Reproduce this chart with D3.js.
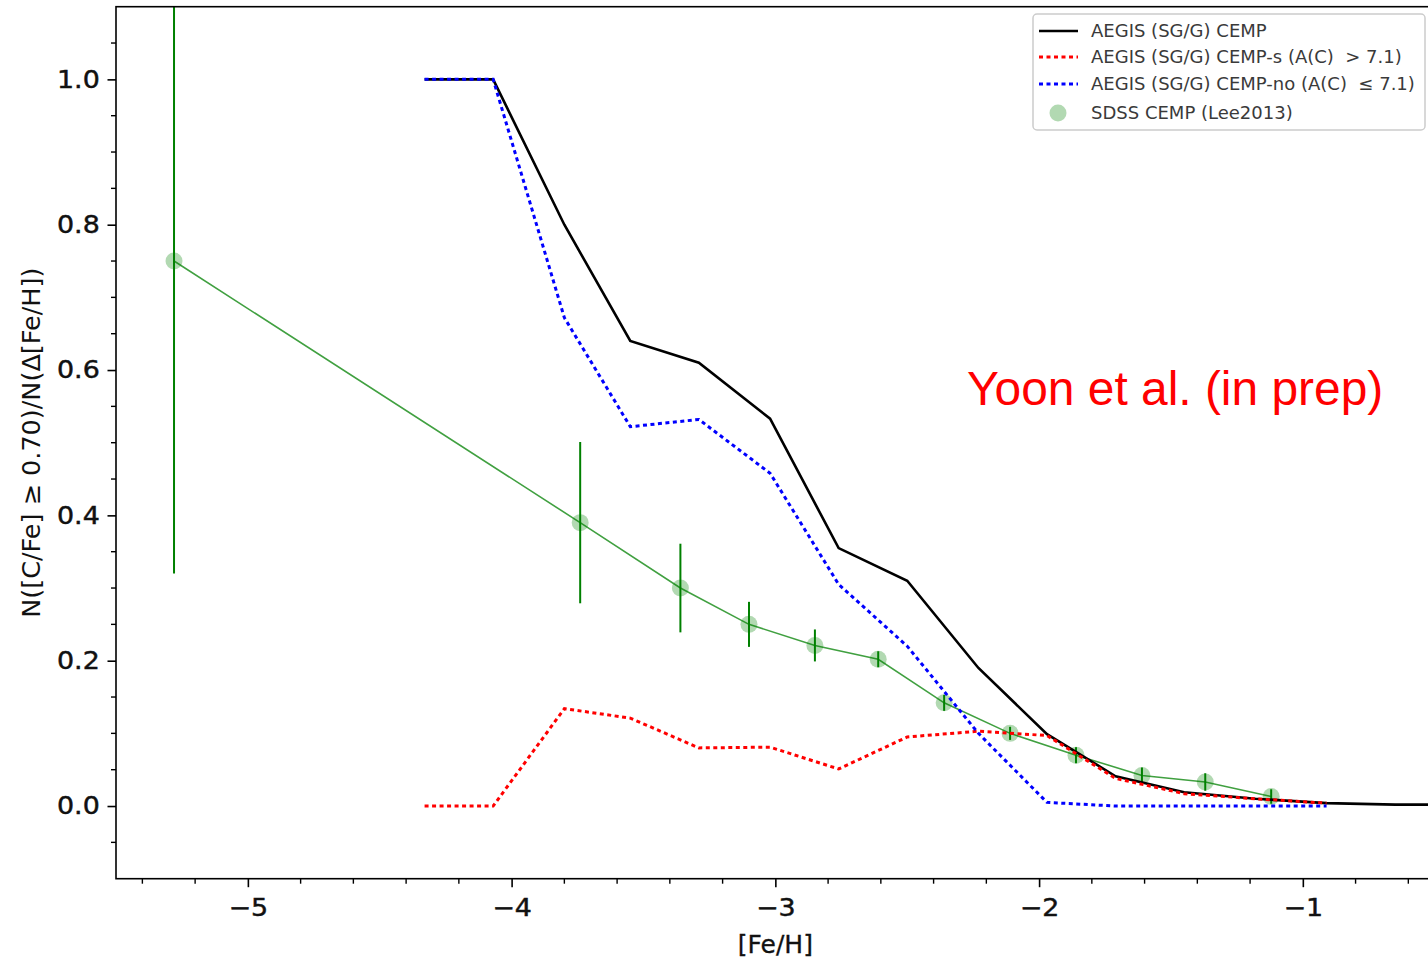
<!DOCTYPE html>
<html><head><meta charset="utf-8">
<script src="https://cdn.jsdelivr.net/npm/d3@7"></script>
<style>body{margin:0;background:#fff}svg{display:block}</style>
</head><body>
<script>
// ---- data ----
const fehBins = [-4.33, -4.07, -3.80, -3.55, -3.29, -3.02, -2.76, -2.50, -2.23, -1.97, -1.71, -1.45, -1.18, -0.91, -0.65, -0.39];
const cempAll = [1.0, 1.0, 0.80, 0.64, 0.61, 0.533, 0.355, 0.31, 0.19, 0.099, 0.041, 0.019, 0.01, 0.004, 0.002, 0.002];
const cempS   = [0.0, 0.0, 0.134, 0.121, 0.08, 0.081, 0.051, 0.095, 0.103, 0.097, 0.038, 0.017, 0.01, 0.004];
const cempNo  = [1.0, 1.0, 0.672, 0.522, 0.532, 0.458, 0.305, 0.22, 0.10, 0.005, 0.0, 0.0, 0.0, 0.0];
const sdssX   = [-5.28, -3.74, -3.36, -3.10, -2.85, -2.61, -2.36, -2.11, -1.86, -1.61, -1.37, -1.12];
const sdssY   = [0.75, 0.39, 0.30, 0.25, 0.221, 0.202, 0.142, 0.10, 0.07, 0.042, 0.033, 0.013];
const sdssErr = [0.43, 0.111, 0.061, 0.031, 0.022, 0.011, 0.011, 0.009, 0.011, 0.011, 0.012, 0.010];
const xTicks = [-5, -4, -3, -2, -1];
const yTicks = [0.0, 0.2, 0.4, 0.6, 0.8, 1.0];
const legendLabels = ["AEGIS (SG/G) CEMP", "AEGIS (SG/G) CEMP-s (A(C)  > 7.1)", "AEGIS (SG/G) CEMP-no (A(C)  \u2264 7.1)", "SDSS CEMP (Lee2013)"];

const W = 1428, H = 961;
const L = 116, R = 1434.7, T = 6.7, B = 878.7;
const svg = d3.select("body").append("svg").attr("width", W).attr("height", H);
const x = d3.scaleLinear().domain([-5.5, -0.5]).range([L, R]);
const y = d3.scaleLinear().domain([-0.1, 1.1]).range([B, T]);

svg.append("clipPath").attr("id", "clip").append("rect")
  .attr("x", L).attr("y", T).attr("width", R - L).attr("height", B - T);
const g = svg.append("g").attr("clip-path", "url(#clip)");

const line = d3.line().x(d => x(d[0])).y(d => y(d[1]));
const zip = (xs, ys) => ys.map((v, i) => [xs[i], v]);

// SDSS green
g.append("path").datum(zip(sdssX, sdssY)).attr("d", line)
  .attr("fill", "none").attr("stroke", "green").attr("stroke-opacity", 0.75).attr("stroke-width", 1.6);
g.selectAll(".pt").data(zip(sdssX, sdssY)).join("circle")
  .attr("cx", d => x(d[0])).attr("cy", d => y(d[1])).attr("r", 8.5)
  .attr("fill", "green").attr("fill-opacity", 0.3);
g.selectAll(".eb").data(sdssX.map((v, i) => [v, sdssY[i], sdssErr[i]])).join("line")
  .attr("x1", d => x(d[0])).attr("x2", d => x(d[0]))
  .attr("y1", d => y(d[1] - d[2])).attr("y2", d => y(d[1] + d[2]))
  .attr("stroke", "green").attr("stroke-width", 2);

// AEGIS lines
g.append("path").datum(zip(fehBins, cempAll)).attr("d", line)
  .attr("fill", "none").attr("stroke", "black").attr("stroke-width", 2.6);
g.append("path").datum(zip(fehBins, cempS)).attr("d", line)
  .attr("fill", "none").attr("stroke", "red").attr("stroke-width", 3).attr("stroke-dasharray", "4,3.5");
g.append("path").datum(zip(fehBins, cempNo)).attr("d", line)
  .attr("fill", "none").attr("stroke", "blue").attr("stroke-width", 3).attr("stroke-dasharray", "4,3.5");

// spines
svg.append("rect").attr("x", L).attr("y", T).attr("width", R - L).attr("height", B - T)
  .attr("fill", "none").attr("stroke", "black").attr("stroke-width", 1.6);

// axes
const font = "DejaVu Sans, sans-serif";
const xAxis = svg.append("g").attr("transform", `translate(0,${B})`)
  .call(d3.axisBottom(x).tickValues(xTicks).tickSize(8.5).tickPadding(12)
    .tickFormat(d => "\u2212" + Math.abs(d)));
const yAxis = svg.append("g").attr("transform", `translate(${L},0)`)
  .call(d3.axisLeft(y).tickValues(yTicks).tickSize(8.5).tickPadding(6)
    .tickFormat(d3.format(".1f")));
[xAxis, yAxis].forEach(a => {
  a.select(".domain").remove();
  a.selectAll("line").attr("stroke", "black").attr("stroke-width", 1.6);
  a.selectAll("text").attr("font-family", font).attr("font-size", 24).attr("fill", "#111")
    .attr("stroke", "#111").attr("stroke-width", 0.45)
    .attr("transform", "scale(1.12,1)");
});
// minor ticks
const xMinor = d3.range(-5.4, -0.5, 0.2).filter(v => Math.abs(v - Math.round(v)) > 1e-6);
svg.append("g").selectAll("line").data(xMinor).join("line")
  .attr("x1", d => x(d)).attr("x2", d => x(d)).attr("y1", B).attr("y2", B + 5)
  .attr("stroke", "black").attr("stroke-width", 1.4);
const yMinor = d3.range(-0.05, 1.1, 0.05).filter(v => Math.abs(v * 5 - Math.round(v * 5)) > 1e-6);
svg.append("g").selectAll("line").data(yMinor).join("line")
  .attr("x1", L - 5).attr("x2", L).attr("y1", d => y(d)).attr("y2", d => y(d))
  .attr("stroke", "black").attr("stroke-width", 1.4);

// axis labels
svg.append("text").attr("x", (L + R) / 2).attr("y", 953).attr("text-anchor", "middle")
  .attr("font-family", font).attr("font-size", 25).attr("fill", "#111")
  .attr("stroke", "#111").attr("stroke-width", 0.3).text("[Fe/H]");
svg.append("text").attr("transform", `translate(40,${(T + B) / 2}) rotate(-90)`)
  .attr("text-anchor", "middle").attr("font-family", font).attr("font-size", 25.5)
  .attr("fill", "#111").text("N([C/Fe] \u2265 0.70)/N(\u0394[Fe/H])");

// annotation
svg.append("text").attr("x", 967).attr("y", 405).attr("font-family", "Liberation Sans, Arial, sans-serif")
  .attr("font-size", 47.9).attr("fill", "red").text("Yoon et al. (in prep)");

// legend
const lg = svg.append("g");
lg.append("rect").attr("x", 1033).attr("y", 14).attr("width", 392).attr("height", 116).attr("rx", 4)
  .attr("fill", "white").attr("fill-opacity", 0.8).attr("stroke", "#cccccc").attr("stroke-width", 1.5);
const rowsY = [31, 57, 84, 113];
const styles = [{c: "black", d: null}, {c: "red", d: "4,3.5"}, {c: "blue", d: "4,3.5"}];
styles.forEach((s, i) => {
  lg.append("line").attr("x1", 1039).attr("x2", 1078).attr("y1", rowsY[i]).attr("y2", rowsY[i])
    .attr("stroke", s.c).attr("stroke-width", s.d ? 3 : 2.6).attr("stroke-dasharray", s.d);
});
lg.append("circle").attr("cx", 1058).attr("cy", rowsY[3]).attr("r", 8.5).attr("fill", "green").attr("fill-opacity", 0.3);
lg.selectAll(".lt").data(legendLabels).join("text")
  .attr("x", 1091).attr("y", (d, i) => rowsY[i] + 6)
  .attr("font-family", font).attr("font-size", 17.5).attr("fill", "#3a3a3a")
  .attr("transform", "translate(1091,0) scale(1.03,1) translate(-1091,0)")
  .attr("xml:space", "preserve").style("white-space", "pre").text(d => d);
</script>
</body></html>
